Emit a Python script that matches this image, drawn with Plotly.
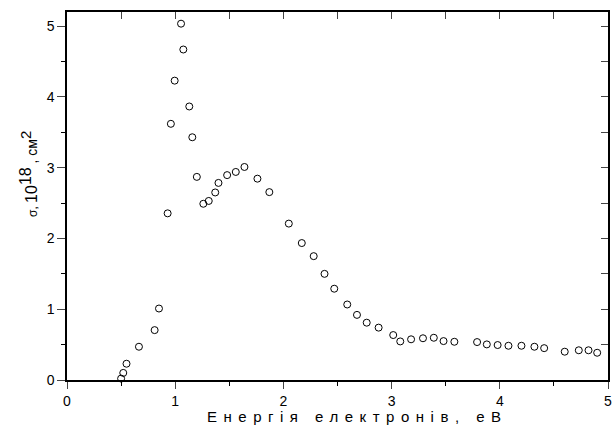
import plotly.graph_objects as go

energy = [0.50, 0.52, 0.55, 0.665, 0.81, 0.85, 0.93, 0.96, 0.995, 1.054,
          1.075, 1.13, 1.158, 1.20, 1.26, 1.31, 1.37, 1.40, 1.48, 1.56,
          1.64, 1.76, 1.87, 2.05, 2.17, 2.28, 2.38, 2.47, 2.59, 2.68,
          2.77, 2.88, 3.015, 3.08, 3.18, 3.29, 3.39, 3.48, 3.58, 3.79,
          3.88, 3.98, 4.08, 4.20, 4.32, 4.41, 4.60, 4.73, 4.82, 4.90]
sigma = [0.02, 0.10, 0.23, 0.47, 0.705, 1.01, 2.355, 3.62, 4.23, 5.035,
         4.67, 3.865, 3.43, 2.87, 2.49, 2.53, 2.65, 2.785, 2.895, 2.94,
         3.01, 2.845, 2.655, 2.21, 1.935, 1.75, 1.50, 1.29, 1.067, 0.92,
         0.81, 0.74, 0.635, 0.545, 0.575, 0.59, 0.597, 0.55, 0.54, 0.536,
         0.503, 0.494, 0.484, 0.484, 0.47, 0.45, 0.40, 0.42, 0.42, 0.385]

x_title = "Енергія електронів, еВ"
y_title = ('<span style="font-size:12px">σ, </span>'
           '<span style="font-size:16px">10</span>'
           '<sup><span style="font-size:16px">18</span></sup>'
           '<span style="font-size:14px"> , см</span>'
           '<sup><span style="font-size:15px">2</span></sup>')

FONT = "Arial, Liberation Sans, sans-serif"

fig = go.Figure()
fig.add_trace(go.Scatter(
    x=energy, y=sigma, mode="markers", cliponaxis=False,
    marker=dict(symbol="circle-open", size=7, color="black", line=dict(width=1, color="black")),
    showlegend=False, hoverinfo="skip"))
# helper (invisible) trace so the mirrored top/right axes with inside ticks are drawn
fig.add_trace(go.Scatter(x=energy[:1], y=sigma[:1], xaxis="x2", yaxis="y2", mode="markers",
                         marker=dict(opacity=0), showlegend=False, hoverinfo="skip"))

fig.update_layout(
    width=615, height=425,
    margin=dict(l=67, r=3, t=12, b=45),
    paper_bgcolor="white", plot_bgcolor="white",
    font=dict(family=FONT, size=14, color="black"),
    xaxis=dict(range=[0, 5], dtick=1, tick0=0, ticks="outside", ticklen=7, tickwidth=1.3,
               showline=True, linewidth=1.5, linecolor="black", showgrid=False, zeroline=False,
               minor=dict(dtick=0.5, ticks="outside", ticklen=4, tickwidth=1.3, tickcolor="black"),
               tickfont=dict(size=14), ticklabeloverflow="allow"),
    yaxis=dict(range=[0, 5.2], dtick=1, tick0=0, ticks="outside", ticklen=8, tickwidth=1.3,
               showline=True, linewidth=1.5, linecolor="black", showgrid=False, zeroline=False,
               minor=dict(dtick=0.5, ticks="outside", ticklen=4, tickwidth=1.3, tickcolor="black"),
               tickfont=dict(size=14), ticklabeloverflow="allow"),
    xaxis2=dict(range=[0, 5], overlaying="x", side="top", anchor="y2", dtick=0.5, tick0=0,
                ticks="inside", ticklen=7, tickwidth=1.3, showticklabels=False,
                showline=True, linewidth=1.5, linecolor="black", showgrid=False, zeroline=False),
    yaxis2=dict(range=[0, 5.2], overlaying="y", side="right", anchor="x2", dtick=0.5, tick0=0,
                ticks="inside", ticklen=7, tickwidth=1.3, showticklabels=False,
                showline=True, linewidth=1.5, linecolor="black", showgrid=False, zeroline=False),
    annotations=[
        dict(text='<span style="letter-spacing:6.5px">' + x_title + '</span>',
             xref="paper", yref="paper", x=0.537, y=-0.098, xanchor="center", yanchor="middle",
             showarrow=False, font=dict(size=15, family=FONT)),
        dict(text=y_title, textangle=-90,
             xref="paper", yref="paper", x=-0.072, y=0.56, xanchor="center", yanchor="middle",
             showarrow=False, font=dict(size=13, family=FONT)),
    ],
)

fig.write_html("out.html", config={"displayModeBar": False})
with open("out.html", encoding="utf-8") as f:
    html = f.read()
html = html.replace("<head>", "<head><style>html,body{margin:0;padding:0;overflow:hidden;}</style>", 1)
with open("out.html", "w", encoding="utf-8") as f:
    f.write(html)
